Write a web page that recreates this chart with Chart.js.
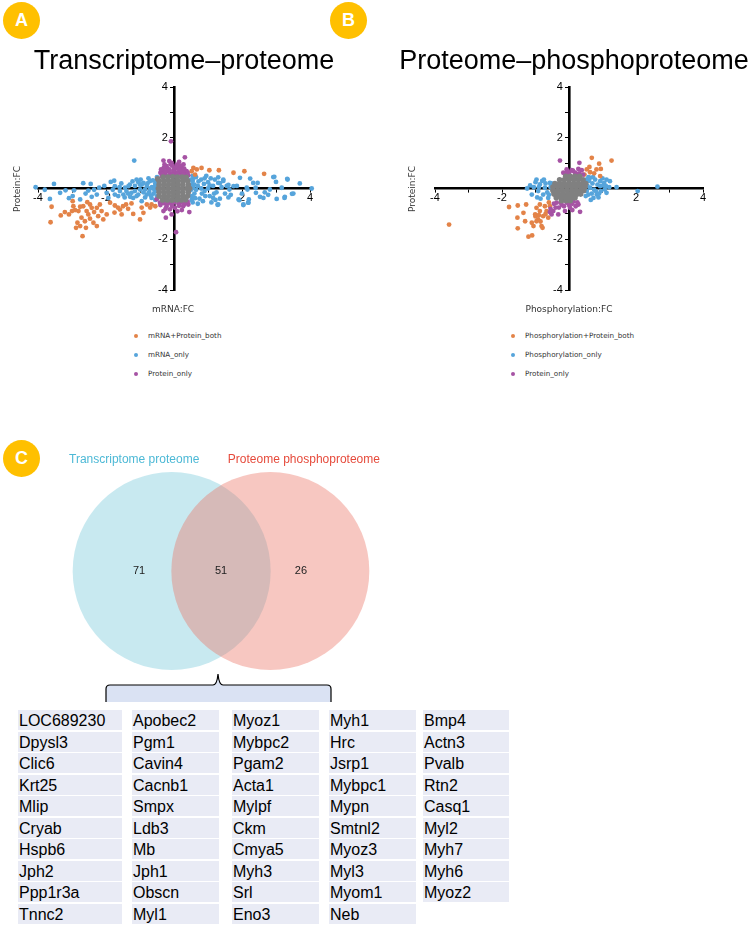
<!DOCTYPE html>
<html>
<head>
<meta charset="utf-8">
<script src="https://cdn.jsdelivr.net/npm/chart.js@4.4.1/dist/chart.umd.min.js"></script>
<style>
  body { margin: 0; background: #fff; }
  #page { position: relative; width: 748px; height: 925px; overflow: hidden; font-family: "Liberation Sans", Arial, sans-serif; }
  canvas { position: absolute; }
  .badge { position: absolute; width: 37px; height: 37px; border-radius: 50%; background: #FFC000; color: #fff;
           font: bold 18px "Liberation Sans", Arial, sans-serif; line-height: 37px; text-align: center; }
  .title { position: absolute; top: 44px; width: 360px; text-align: center; font-size: 27px; line-height: 32px; color: #000; white-space: nowrap; }
  .axt { position: absolute; font: 9px "DejaVu Sans", sans-serif; color: #333; white-space: nowrap; }
  .yt { transform: translate(-50%, -50%) rotate(-90deg); }
  .xt { transform: translate(-50%, -50%); }
  .leg { position: absolute; font: 7.2px "DejaVu Sans", sans-serif; color: #333; white-space: nowrap; line-height: 10px; }
  .leg i { position: absolute; left: -14px; top: 3px; width: 4px; height: 4px; border-radius: 50%; }
  .cell { position: absolute; height: 20px; background: #E9EBF5; font-size: 16px; line-height: 21px; color: #000; padding-left: 1px; box-sizing: border-box; white-space: nowrap; }
</style>
</head>
<body>
<div id="page">
  <canvas id="scatterA" width="340" height="240" style="left:0;top:70px"></canvas>
  <canvas id="scatterB" width="378" height="240" style="left:370px;top:70px"></canvas>
  <canvas id="venn" width="442" height="262" style="left:0;top:440px"></canvas>

  <div class="badge" style="left:3px;top:2px">A</div>
  <div class="badge" style="left:330px;top:2px">B</div>
  <div class="badge" style="left:3px;top:440px">C</div>

  <div class="title" style="left:4px">Transcriptome–proteome</div>
  <div class="title" style="left:394px">Proteome–phosphoproteome</div>

  <div class="axt yt" style="left:17px;top:189px">Protein:FC</div>
  <div class="axt yt" style="left:412px;top:189px">Protein:FC</div>
  <div class="axt xt" style="left:173px;top:309px">mRNA:FC</div>
  <div class="axt xt" style="left:569px;top:309px">Phosphorylation:FC</div>

  <div id="legendA"></div>
  <div id="legendB"></div>

  <svg style="position:absolute;left:0;top:670px" width="340" height="35">
    <path d="M106,32 L106,19 Q106,15 110,15 L213,15 Q217,15 218,4 Q219,15 223,15 L327,15 Q331,15 331,19 L331,32 Z" fill="#DAE2F3" stroke="none"/>
    <path d="M106,32 L106,19 Q106,15 110,15 L213,15 Q217,15 218,4 Q219,15 223,15 L327,15 Q331,15 331,19 L331,32" fill="none" stroke="#000" stroke-width="1.2"/>
  </svg>

  <div id="table"></div>
</div>

<script>
// ---------- colours ----------
const colBoth = '#E38348';
const colOnly = '#56A4DB';
const colProt = '#A653A4';
const colGrey = '#808080';
const fontFam = '"Liberation Sans", Arial, sans-serif';

// ---------- A: transcriptome vs proteome (mRNA FC, protein FC) ----------
const transBoth = [
  [-3.6,-0.72],[-3.63,-1.33],[-3.33,-1.06],[-3.21,-0.93],[-3.09,-1.02],[-2.96,-0.7],[-2.91,-0.85],[-2.84,-1.35],
  [-2.76,-0.72],[-2.81,-0.89],[-2.72,-1.15],[-2.69,-1.88],[-2.88,-1.55],[-2.59,-1.55],[-2.57,-0.89],[-2.47,-0.63],
  [-2.47,-1.19],[-2.37,-1.35],[-2.27,-0.76],[-2.23,-1.09],[-2.18,-0.63],[-2.13,-0.89],[-2.08,-1.22],[-1.98,-1.02],
  [-1.88,-0.56],[-1.74,-0.67],[-1.59,-0.83],[-1.54,-1.02],[-1.41,-0.63],[-1.25,-0.59],[-1.0,-1.22],[-0.9,-0.96],
  [-0.8,-0.63],[-0.66,-0.63],[-2.98,-0.5],[-2.55,-0.54],[-2.67,-0.7],[-2.52,-1.02],[-2.35,-0.93],[-2.76,-1.48],
  [-2.62,-1.29],[-2.27,-1.48],[-2.42,-0.76],[-3.0,-0.89],[-1.75,-0.95],[-1.65,-0.75],[-1.35,-0.8],[-1.5,-0.7],
  [-1.2,-1.0],[-0.95,-0.75],[-0.7,-0.75],[-0.55,-0.7],
  [0.57,0.81],[0.67,0.75],[0.81,0.81],[1.04,0.72],[1.32,0.72],[1.75,0.62],[2.07,0.68],[2.65,0.58],[0.52,0.68],[0.62,0.55]
];
const transMrna = [
  [-4.07,0.05],[-3.53,0.18],[-3.65,-0.41],[-3.35,-0.17],[-3.19,-0.07],[-3.09,-0.38],[-2.94,-0.07],[-2.98,-0.3],
  [-2.67,0.21],[-2.76,-0.43],[-2.52,-0.08],[-2.45,0.18],[-2.42,-0.33],[-2.27,-0.24],[-2.2,0.03],[-1.98,-0.17],
  [-1.86,0.26],[-1.76,0.31],[-1.74,-0.24],[-1.93,-0.37],[-1.64,-0.3],[-1.59,-0.1],[-1.49,-0.24],[-1.34,0.09],
  [-1.25,-0.17],[-1.1,0.35],[-1.0,-0.04],[-0.9,0.22],[-0.8,-0.24],[-0.71,0.29],[-0.66,-0.37],[-0.56,0.09],
  [-1.2,-0.37],[-1.44,0.03],[-1.74,0.09],[-0.85,-0.04],[-0.73,-0.14],[-1.05,-0.24],[-0.95,-0.5],[-1.29,-0.33],
  [-0.6,-0.2],[-0.55,0.2],[-0.65,0.05],[-0.95,0.15],[-1.15,-0.1],[-1.3,0.15],[-0.75,0.4],[-0.55,-0.45],
  [-0.85,-0.35],[-1.05,0.25],[-1.4,-0.1],[-1.6,0.05],[-1.17,1.1],[-1.45,-0.35],[-1.35,-0.2],[-1.15,0.1],
  [-1.0,0.15],[-0.9,-0.15],[-0.7,0.0],[-0.62,0.32],[-0.78,0.2],[-1.1,-0.3],[-0.98,0.35],[-0.8,0.1],
  [-0.68,-0.28],[-1.22,0.28],[-1.55,0.2],[-1.8,-0.05],[-2.05,0.1],[-2.35,-0.05],[-2.6,-0.2],[-3.8,-0.05],
  [-0.52,0.3],[-0.5,-0.3],[-0.52,-0.1],[-0.5,0.12],[-0.5,0.45],[-0.58,-0.05],
  [0.55,0.3],[0.6,-0.2],[0.7,0.1],[0.8,0.35],[0.75,-0.4],[0.9,-0.1],[1.0,0.25],[1.05,-0.3],[1.15,0.1],
  [0.65,0.45],[0.85,-0.5],[1.2,0.35],[1.25,-0.15],[0.95,0.5],[0.5,-0.05],[0.6,0.15],[1.4,0.05],[1.5,-0.2],
  [1.1,-0.55],[0.7,-0.6],[1.35,-0.4],[0.55,-0.55],[0.8,0.0],[1.0,0.0],[0.65,-0.05],[0.72,0.28],[0.88,0.18],
  [0.92,-0.3],[1.08,0.4],[1.18,-0.2],[1.3,0.22],[0.58,0.42],[0.62,-0.38],[0.82,-0.2],[1.45,0.3],[1.55,0.1],
  [1.6,-0.35],[0.9,0.4],[1.05,0.12],[1.22,-0.45],[1.35,0.21],[1.3,0.44],[1.75,0.09],[1.6,0.14],[2.4,0.03],
  [2.16,-0.04],[1.94,0.42],[2.24,0.39],[2.46,0.22],[2.95,0.46],[3.0,0.26],[3.34,0.35],[4.05,0.0],[4.15,-0.21],
  [3.47,-0.21],[3.25,-0.37],[3.02,-0.41],[2.77,-0.25],[2.67,-0.15],[2.53,-0.33],[2.18,-0.56],[2.04,-0.65],
  [2.2,-0.43],[1.9,-0.43],[1.67,-0.25],[1.3,-0.63],[2.92,0.45],[3.33,0.38],[2.82,-0.04],[3.26,-0.33],
  [3.51,-0.2],[3.17,0.03],[2.63,-0.37],[2.41,-0.17],[2.33,0.22],[2.14,0.03],[1.92,-0.46],[2.04,-0.63],
  [2.19,-0.56],[1.63,-0.04],[1.45,0.35],[1.28,-0.64],[1.15,-0.37],[1.85,0.1],[2.0,-0.2],[3.7,0.2],
  [0.5,0.35],[0.52,-0.3],[0.5,0.15],[0.52,-0.45],[0.55,0.5],[0.56,0.02]
];
const transProtein = [
  [-0.09,1.86],[-0.31,1.1],[0.32,1.23],[-0.22,0.88],[-0.07,1.01],[0.08,0.94],[0.23,0.81],[-0.31,0.68],
  [0.37,0.68],[-0.17,0.68],[0.03,0.77],[0.18,0.62],[-0.36,0.49],[0.32,0.49],[-0.14,1.08],[-0.4,0.62],
  [-0.25,0.55],[-0.1,0.6],[0.05,0.6],[0.2,0.7],[0.35,0.58],[0.42,0.52],[-0.2,0.78],[0.12,0.85],
  [-0.05,0.9],[0.28,0.95],[-0.28,0.95],[0.15,1.05],[-0.02,0.7],[0.26,0.65],[-0.12,0.52],[0.1,0.52],
  [-0.38,0.75],[-0.3,0.82],[-0.14,0.75],[0.0,0.82],[0.1,0.62],[0.2,0.9],[0.3,0.78],[0.4,0.62],
  [-0.25,0.65],[-0.05,0.55],[0.27,0.55],[-0.35,0.57],[0.15,0.75],[-0.1,0.95],
  [-0.41,-0.56],[-0.22,-0.7],[-0.07,-0.63],[0.13,-0.59],[0.27,-0.7],[0.42,-0.63],[-0.24,-1.15],[-0.07,-1.02],
  [0.23,-0.85],[0.45,-0.93],[0.06,-1.72],[-0.31,-0.89],[0.03,-0.76],[-0.51,-0.43],[-0.3,-0.58],[0.2,-0.55],
  [0.35,-0.55],[-0.12,-0.82],[0.1,-0.9],[-0.15,-0.55],[-0.4,-0.65],[-0.2,-0.6],[0.0,-0.55],[0.3,-0.62],
  [0.4,-0.52],[-0.25,-0.8],[0.15,-0.68],[-0.05,-0.7]
];
const transGrey = [
  [-0.32,0.45],[-0.18,0.45],[-0.04,0.46],[0.1,0.45],[0.24,0.45],[0.36,0.44],[-0.48,0.38],
  [-0.44,0.3],[-0.3,0.3],[-0.16,0.3],[-0.02,0.3],[0.12,0.3],[0.26,0.3],[0.4,0.3],
  [-0.44,0.15],[-0.3,0.15],[-0.16,0.15],[-0.02,0.15],[0.12,0.15],[0.26,0.15],[0.42,0.15],
  [-0.46,0.0],[-0.32,0.0],[-0.18,0.0],[-0.04,0.0],[0.1,0.0],[0.24,0.0],[0.38,0.0],[0.46,0.0],
  [-0.44,-0.15],[-0.3,-0.15],[-0.16,-0.15],[-0.02,-0.15],[0.12,-0.15],[0.26,-0.15],[0.42,-0.15],
  [-0.44,-0.3],[-0.3,-0.3],[-0.16,-0.3],[-0.02,-0.3],[0.12,-0.3],[0.26,-0.3],[0.4,-0.3],
  [-0.34,-0.45],[-0.2,-0.45],[-0.06,-0.46],[0.08,-0.45],[0.22,-0.45],[0.34,-0.44]
];

// ---------- B: proteome vs phosphoproteome (phospho FC, protein FC) ----------
const phosBoth = [
  [-3.58,-1.42],[-1.79,-0.73],[-1.53,-0.67],[-1.28,-0.63],[-1.36,-0.96],[-1.54,-1.15],[-1.53,-1.57],[-1.31,-1.29],
  [-1.21,-1.9],[-1.1,-1.85],[-1.06,-1.48],[-1.01,-1.02],[-0.97,-0.76],[-0.92,-1.22],[-0.87,-0.89],[-0.82,-1.48],
  [-0.77,-1.09],[-0.72,-0.7],[-0.67,-0.89],[-0.62,-1.15],[-0.57,-0.7],[-0.79,-1.55],[-1.11,-1.35],[-0.97,-1.29],
  [-0.87,-0.63],[-0.52,-0.89],[-1.0,-1.1],[-0.85,-1.3],[-0.7,-1.0],[-0.9,-1.05],[-0.6,-0.55],
  [0.68,1.21],[1.27,1.1],[0.9,0.98],[0.53,0.75],[0.63,0.64],[0.82,0.75],[0.95,0.77],[0.93,0.49],[0.61,0.85],
  [0.46,0.55],[0.75,0.6]
];
const phosPhos = [
  [-0.97,0.35],[-1.16,0.12],[-1.11,-0.24],[-0.92,-0.1],[-0.87,0.16],[-0.77,-0.24],[-0.72,0.03],[-0.62,-0.37],
  [-0.57,0.22],[-0.47,-0.1],[-1.25,0.0],[-1.0,0.25],[-0.8,0.3],[-0.65,-0.15],[-0.95,-0.35],[-0.55,0.05],
  [-1.05,0.05],[-0.7,0.2],[-0.85,-0.4],[-0.52,0.2],[-0.6,-0.25],[-0.75,0.35],[-0.9,0.05],
  [0.48,0.22],[0.63,0.42],[0.78,0.35],[0.93,0.29],[1.12,0.35],[1.22,0.29],[1.07,-0.04],[1.12,-0.17],
  [0.83,-0.24],[0.73,-0.37],[0.93,0.09],[0.63,0.03],[0.53,-0.1],[1.42,0.05],[2.05,-0.1],[2.64,0.07],
  [1.02,0.12],[0.58,-0.24],[0.7,0.2],[0.85,0.15],[0.75,-0.05],[0.95,-0.1],[0.6,0.3],[1.0,0.4],
  [0.68,-0.2],[0.88,-0.35],[1.05,0.22],[0.55,0.1],[0.5,-0.3],[0.65,-0.45],[1.2,0.05],
  [0.52,0.35],[0.58,0.45],[0.72,0.45],[0.9,-0.2],[1.1,0.1],[0.8,-0.1]
];
const phosProtein = [
  [-0.27,1.1],[0.31,1.01],[-0.07,0.75],[0.08,0.72],[0.28,0.77],[0.38,0.72],[0.18,0.62],[-0.17,0.62],
  [0.0,0.62],[0.3,0.6],[-0.05,0.68],[0.12,0.7],[0.22,0.55],[-0.1,0.56],[0.42,0.55],
  [-0.37,-0.56],[-0.22,-0.63],[-0.07,-0.56],[0.13,-0.5],[0.28,-0.63],[0.33,-0.92],[-0.12,-0.89],[-0.47,-0.89],
  [-0.32,-1.02],[-0.57,-0.93],[0.03,-0.76],[-0.52,-1.02],[-0.45,-0.6],[-0.3,-0.75],[-0.15,-0.7],[0.0,-0.65],
  [0.2,-0.7],[-0.4,-0.75],[0.1,-0.85],[-0.25,-0.55],[0.1,-0.6],[-0.55,-0.8],[0.25,-0.55]
];
const phosGrey = [
  [-0.1,0.48],[0.04,0.48],[0.18,0.48],[0.32,0.48],
  [-0.28,0.34],[-0.14,0.34],[0.0,0.34],[0.14,0.34],[0.28,0.34],[0.42,0.34],
  [-0.42,0.2],[-0.28,0.2],[-0.14,0.2],[0.0,0.2],[0.14,0.2],[0.28,0.2],[0.42,0.2],[0.5,0.2],
  [-0.48,0.06],[-0.34,0.06],[-0.2,0.06],[-0.06,0.06],[0.08,0.06],[0.22,0.06],[0.36,0.06],[0.48,0.06],
  [-0.48,-0.08],[-0.34,-0.08],[-0.2,-0.08],[-0.06,-0.08],[0.08,-0.08],[0.22,-0.08],[0.36,-0.08],[0.44,-0.08],
  [-0.45,-0.22],[-0.31,-0.22],[-0.17,-0.22],[-0.03,-0.22],[0.11,-0.22],[0.25,-0.22],[0.35,-0.22],
  [-0.38,-0.36],[-0.24,-0.36],[-0.1,-0.36],[0.04,-0.36],[0.18,-0.36],
  [-0.22,-0.48],[-0.08,-0.48],[0.04,-0.48]
];

const legendA = ['mRNA+Protein_both', 'mRNA_only', 'Protein_only'];
const legendB = ['Phosphorylation+Protein_both', 'Phosphorylation_only', 'Protein_only'];

// ---------- C: Venn ----------
const vennSets = ['Transcriptome proteome', 'Proteome phosphoproteome'];
const vennCounts = [71, 51, 26];   // left only, shared, right only

// ---------- gene table (shared 51) ----------
const geneCols = [
  ['LOC689230', 'Dpysl3', 'Clic6', 'Krt25', 'Mlip', 'Cryab', 'Hspb6', 'Jph2', 'Ppp1r3a', 'Tnnc2'],
  ['Apobec2', 'Pgm1', 'Cavin4', 'Cacnb1', 'Smpx', 'Ldb3', 'Mb', 'Jph1', 'Obscn', 'Myl1'],
  ['Myoz1', 'Mybpc2', 'Pgam2', 'Acta1', 'Mylpf', 'Ckm', 'Cmya5', 'Myh3', 'Srl', 'Eno3'],
  ['Myh1', 'Hrc', 'Jsrp1', 'Mybpc1', 'Mypn', 'Smtnl2', 'Myoz3', 'Myl3', 'Myom1', 'Neb'],
  ['Bmp4', 'Actn3', 'Pvalb', 'Rtn2', 'Casq1', 'Myl2', 'Myh7', 'Myh6', 'Myoz2']
];

// ---------- scatter helper ----------
function pts(arr) { return arr.map(p => ({ x: p[0], y: p[1] })); }

// only even, non-zero values carry a label; y labels get trailing space so they sit left of the axis
function xTick(v) { return (v !== 0 && v % 2 === 0) ? String(v) : ''; }
function yTick(v) { return (v !== 0 && v % 2 === 0) ? String(v) + '  ' : ''; }

function axis(pos, cb, pad) {
    return {
        type: 'linear', min: -4, max: 4, position: pos,
        border: { display: true, color: '#000', width: 2.6 },
        grid: { drawOnChartArea: false, drawTicks: true, tickLength: 3, color: '#000', lineWidth: 1 },
        ticks: { stepSize: 1, autoSkip: false, padding: pad, color: '#000',
                 font: { size: 11, family: fontFam }, callback: cb }
    };
}

function makeScatter(id, groups, pad) {
    return new Chart(document.getElementById(id), {
        type: 'scatter',
        data: {
            datasets: [
                { label: 'unchanged', data: pts(groups.grey), backgroundColor: colGrey, pointRadius: 2.8 },
                { label: groups.names[2], data: pts(groups.prot), backgroundColor: colProt, pointRadius: 2.4 },
                { label: groups.names[0], data: pts(groups.both), backgroundColor: colBoth, pointRadius: 2.4 },
                { label: groups.names[1], data: pts(groups.only), backgroundColor: colOnly, pointRadius: 2.4 }
            ].map(d => Object.assign(d, { borderWidth: 0, clip: false, pointHoverRadius: d.pointRadius }))
        },
        options: {
            responsive: false, animation: false, devicePixelRatio: 1,
            layout: { padding: pad, autoPadding: false },
            plugins: { legend: { display: false }, tooltip: { enabled: false } },
            scales: { x: axis({ y: 0 }, xTick, 0), y: axis({ x: 0 }, yTick, 2) }
        }
    });
}

makeScatter('scatterA',
    { both: transBoth, only: transMrna, prot: transProtein, grey: transGrey, names: legendA },
    { left: 38, right: 30, top: 17, bottom: 20 });
makeScatter('scatterB',
    { both: phosBoth, only: phosPhos, prot: phosProtein, grey: phosGrey, names: legendB },
    { left: 65, right: 45, top: 17, bottom: 20 });

// legends (html, stacked like the original)
function buildLegend(elId, names, left) {
    const cols = [colBoth, colOnly, colProt];
    const tops = [331, 350, 369];
    document.getElementById(elId).innerHTML = names.map((n, i) =>
        `<div class="leg" style="left:${left}px;top:${tops[i]}px"><i style="background:${cols[i]}"></i>${n}</div>`
    ).join('');
}
buildLegend('legendA', legendA, 148);
buildLegend('legendB', legendB, 525);

// ---------- Venn (two equal circles on a hidden linear scale) ----------
const vennText = {
    id: 'vennText',
    afterDatasetsDraw(chart) {
        const { ctx, scales: { x, y } } = chart;
        ctx.save();
        ctx.textAlign = 'center';
        ctx.textBaseline = 'middle';
        ctx.font = '11px ' + fontFam;
        ctx.fillStyle = '#222';
        [-1.66, 0, 1.62].forEach((vx, i) => ctx.fillText(String(vennCounts[i]), x.getPixelForValue(vx), y.getPixelForValue(0)));
        ctx.font = '12px ' + fontFam;
        ctx.fillStyle = '#4DB9D6';
        ctx.fillText(vennSets[0], x.getPixelForValue(-1.76), y.getPixelForValue(0.847));
        ctx.fillStyle = '#E64B3C';
        ctx.fillText(vennSets[1], x.getPixelForValue(1.68), y.getPixelForValue(0.847));
        ctx.restore();
    }
};

new Chart(document.getElementById('venn'), {
    type: 'scatter',
    data: {
        datasets: [
            { label: vennSets[1], data: [{ x: 1, y: 0 }], backgroundColor: 'rgba(235,115,100,0.4)', order: 1 },
            { label: vennSets[0], data: [{ x: -1, y: 0 }], backgroundColor: 'rgba(118,200,217,0.4)', order: 2 }
        ].map(d => Object.assign(d, { pointRadius: 99, pointHoverRadius: 99, borderWidth: 0, clip: false }))
    },
    options: {
        responsive: false, animation: false, devicePixelRatio: 1,
        layout: { padding: 0, autoPadding: false },
        plugins: { legend: { display: false }, tooltip: { enabled: false } },
        scales: {
            x: { type: 'linear', min: -4.48, max: 4.48, display: false },
            y: { type: 'linear', min: -1, max: 1, display: false }
        }
    },
    plugins: [vennText]
});

// ---------- table ----------
const colLeft = [18, 132, 232, 329, 423];
const colWidth = [104, 87, 87, 87, 86];
let html = '';
geneCols.forEach((col, c) => {
    col.forEach((g, r) => {
        html += `<div class="cell" style="left:${colLeft[c]}px;top:${710 + r * 21.5}px;width:${colWidth[c]}px">${g}</div>`;
    });
});
document.getElementById('table').innerHTML = html;
</script>
</body>
</html>
